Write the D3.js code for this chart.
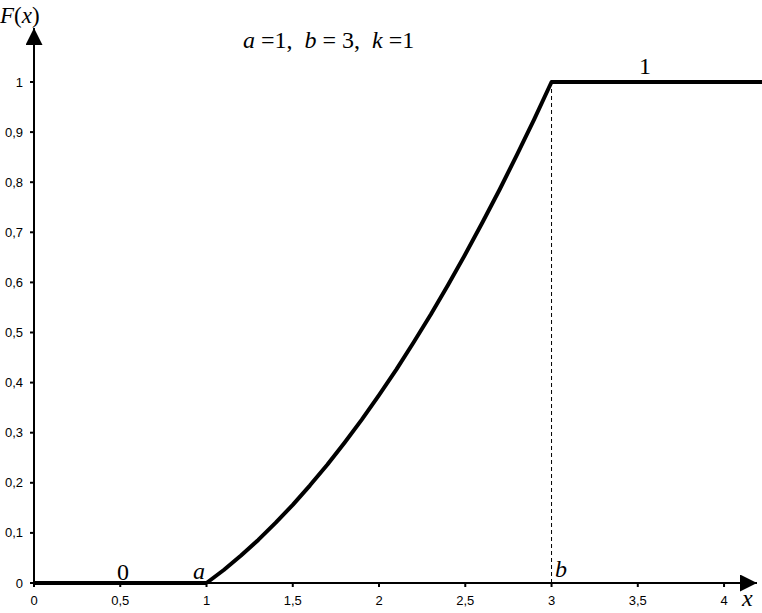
<!DOCTYPE html>
<html lang="en">
<head>
<meta charset="UTF-8">
<title>F(x)</title>
<script src="https://d3js.org/d3.v7.min.js"></script>
<style>
  body { margin: 0; background: #fff; }
  .tick-label { font-family: Arial, "Liberation Sans", sans-serif; font-size: 13px; fill: #000; }
  .math { font-family: "Times New Roman", "Liberation Serif", serif; fill: #000; }
</style>
</head>
<body>
<div id="chart"></div>
<script>
// tick values
var xTicks = [0, 0.5, 1, 1.5, 2, 2.5, 3, 3.5, 4];
var yTicks = [0, 0.1, 0.2, 0.3, 0.4, 0.5, 0.6, 0.7, 0.8, 0.9, 1];

// parameters shown in the title
var a = 1, b = 3, k = 1;

// curve: x values and F(x)
var curveX = [1.0, 1.1, 1.2, 1.3, 1.4, 1.5, 1.6, 1.7, 1.8, 1.9, 2.0,
              2.1, 2.2, 2.3, 2.4, 2.5, 2.6, 2.7, 2.8, 2.9, 3.0];
var curveF = [0, 0.026, 0.055, 0.086, 0.12, 0.156, 0.195, 0.236, 0.28, 0.326, 0.375,
              0.426, 0.48, 0.536, 0.595, 0.656, 0.72, 0.786, 0.855, 0.926, 1];

// flat parts of the CDF
var leftPart = [[0, 0], [1, 0]];
var rightPart = [[3, 1], [4.22, 1]];

var width = 762, height = 613;

var svg = d3.select("#chart")
  .append("svg")
    .attr("width", width)
    .attr("height", height);

var x = d3.scaleLinear().domain([0, 4.22]).range([34, 762]);
var y = d3.scaleLinear().domain([0, 1]).range([583, 82]);

var fmt = function(d) { return String(d).replace(".", ","); };

// arrow marker
var defs = svg.append("defs");
defs.append("marker")
  .attr("id", "arrow")
  .attr("viewBox", "0 0 10 10")
  .attr("refX", 10).attr("refY", 5)
  .attr("markerWidth", 18).attr("markerHeight", 17)
  .attr("markerUnits", "userSpaceOnUse")
  .attr("orient", "auto")
  .append("path")
    .attr("d", "M0,0 L10,5 L0,10 Z")
    .attr("fill", "#000");

// x axis
svg.append("line")
  .attr("x1", x(0)).attr("y1", y(0))
  .attr("x2", 757).attr("y2", y(0))
  .attr("stroke", "#000").attr("stroke-width", 2)
  .attr("marker-end", "url(#arrow)");

// y axis
svg.append("line")
  .attr("x1", x(0)).attr("y1", y(0) + 1)
  .attr("x2", x(0)).attr("y2", 28)
  .attr("stroke", "#000").attr("stroke-width", 2)
  .attr("marker-end", "url(#arrow)");

// x ticks
svg.append("g").selectAll("line")
  .data(xTicks)
  .enter().append("line")
    .attr("x1", function(d) { return x(d); })
    .attr("x2", function(d) { return x(d); })
    .attr("y1", y(0))
    .attr("y2", y(0) + 4)
    .attr("stroke", "#000").attr("stroke-width", 2);

svg.append("g").selectAll("text")
  .data(xTicks)
  .enter().append("text")
    .attr("class", "tick-label")
    .attr("x", function(d) { return x(d); })
    .attr("y", 605)
    .attr("text-anchor", "middle")
    .text(fmt);

// y ticks
svg.append("g").selectAll("line")
  .data(yTicks)
  .enter().append("line")
    .attr("x1", x(0) - 4)
    .attr("x2", x(0))
    .attr("y1", function(d) { return y(d); })
    .attr("y2", function(d) { return y(d); })
    .attr("stroke", "#000").attr("stroke-width", 2);

svg.append("g").selectAll("text")
  .data(yTicks)
  .enter().append("text")
    .attr("class", "tick-label")
    .attr("x", 23)
    .attr("y", function(d) { return y(d) + 4.5; })
    .attr("text-anchor", "end")
    .text(fmt);

// dashed line at b
svg.append("line")
  .attr("x1", x(b)).attr("x2", x(b))
  .attr("y1", y(1)).attr("y2", y(0))
  .attr("stroke", "#000").attr("stroke-width", 1)
  .attr("stroke-dasharray", "4,3");

// the CDF
var line = d3.line()
  .x(function(d) { return x(d[0]); })
  .y(function(d) { return y(d[1]); });

var curve = curveX.map(function(v, i) { return [v, curveF[i]]; });

svg.append("path")
  .datum(leftPart)
  .attr("fill", "none")
  .attr("stroke", "#000")
  .attr("stroke-width", 4)
  .attr("d", line);

svg.append("path")
  .datum(curve.concat(rightPart.slice(1)))
  .attr("fill", "none")
  .attr("stroke", "#000")
  .attr("stroke-width", 4)
  .attr("stroke-linejoin", "round")
  .attr("d", line);

// labels
var fx = svg.append("text").attr("class", "math")
  .attr("x", 0).attr("y", 23).style("font-size", "23px");
fx.append("tspan").style("font-style", "italic").text("F");
fx.append("tspan").text("(");
fx.append("tspan").style("font-style", "italic").text("x");
fx.append("tspan").text(")");

svg.append("text").attr("class", "math")
  .attr("x", 742).attr("y", 606)
  .style("font-size", "24px").style("font-style", "italic")
  .text("x");

var title = svg.append("text").attr("class", "math")
  .attr("x", 243).attr("y", 48).style("font-size", "24px")
  .attr("xml:space", "preserve");
title.append("tspan").style("font-style", "italic").text("a");
title.append("tspan").text(" =1,  ");
title.append("tspan").style("font-style", "italic").text("b");
title.append("tspan").text(" = 3,  ");
title.append("tspan").style("font-style", "italic").text("k");
title.append("tspan").text(" =1");

svg.append("text").attr("class", "math")
  .attr("x", 645).attr("y", 74).attr("text-anchor", "middle")
  .style("font-size", "24px").text("1");

svg.append("text").attr("class", "math")
  .attr("x", 123).attr("y", 580).attr("text-anchor", "middle")
  .style("font-size", "24px").text("0");

svg.append("text").attr("class", "math")
  .attr("x", 199).attr("y", 579).attr("text-anchor", "middle")
  .style("font-size", "24px").style("font-style", "italic").text("a");

svg.append("text").attr("class", "math")
  .attr("x", 561).attr("y", 577).attr("text-anchor", "middle")
  .style("font-size", "24px").style("font-style", "italic").text("b");
</script>
</body>
</html>
